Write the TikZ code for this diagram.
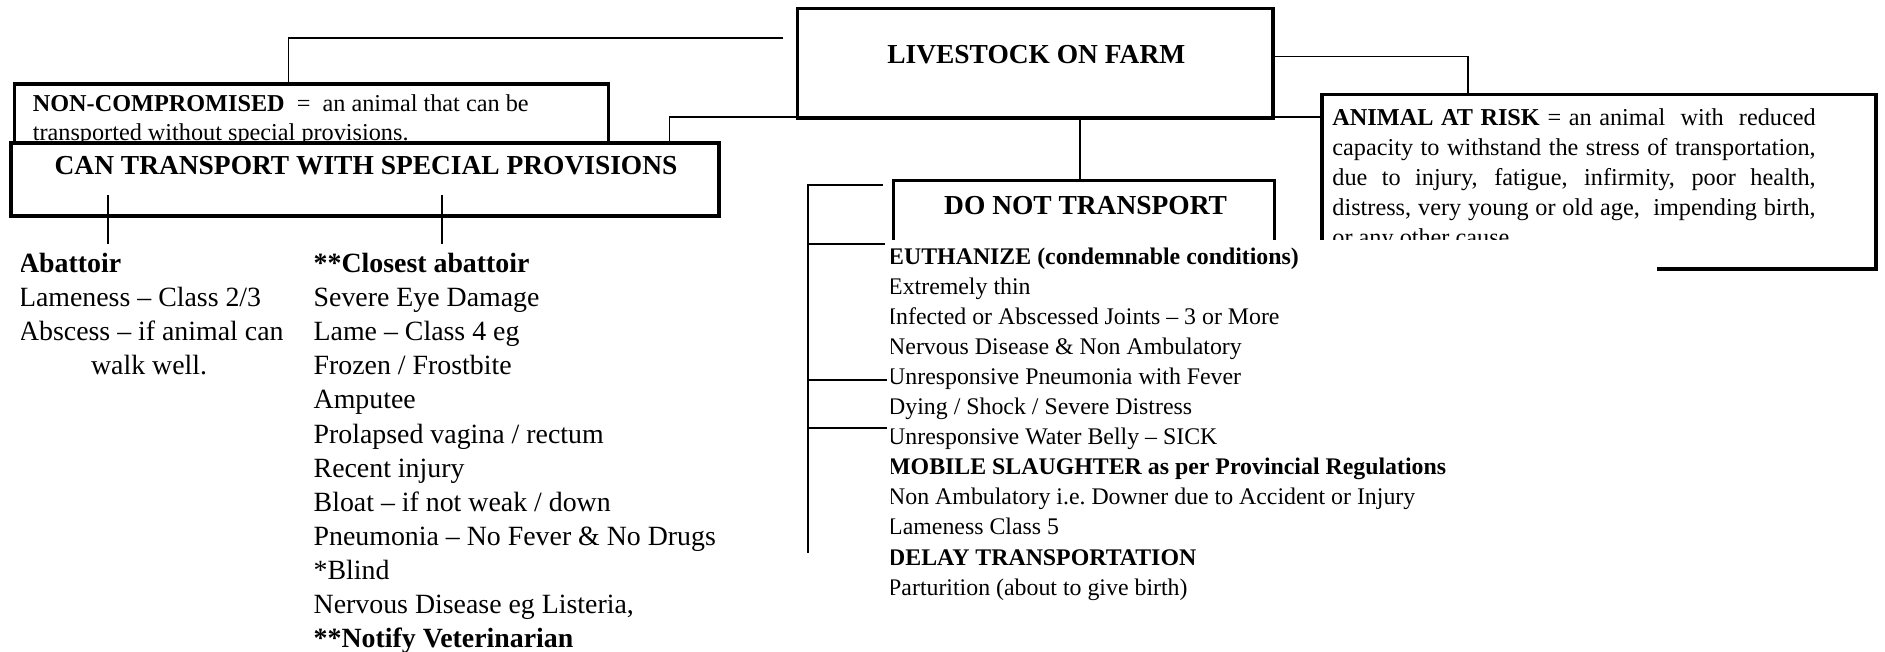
\documentclass[tikz,border=0pt]{standalone}
\usepackage{fontspec}
\setmainfont{Liberation Serif}
\usetikzlibrary{fit}

\newcommand{\headsize}{\fontsize{13.7}{16}\selectfont\bfseries}
\newcommand{\itemsize}{\fontsize{13.9}{17}\selectfont}
\newcommand{\notesize}{\fontsize{12.1}{15}\selectfont}
\newcommand{\listsize}{\fontsize{11.9}{15}\selectfont}

\tikzset{
  box/.style={draw, line width=1.8pt, fill=white, inner sep=0pt, outer sep=0pt},
  link/.style={line width=0.9pt},
  brace/.style={line width=1.2pt},
  head/.style={inner sep=0pt, anchor=base, font=\headsize},
  note/.style={inner sep=0pt, anchor=base west, font=\notesize},
  entry/.style={inner sep=0pt, anchor=base west, font=\itemsize},
  cond/.style={inner sep=0pt, anchor=base west, font=\listsize}
}

\begin{document}
\begin{tikzpicture}[x=0.6pt, y=-0.6pt]
\fill[white] (0,0) rectangle (1568,542);
\useasboundingbox (0,0) rectangle (1568,542);

\node[box, fit={(12,70) (506,150)}] (noncomp) {};
\node[note] at (27,92.5) {\textbf{NON-COMPROMISED}\ \ =\ \ an animal that can be};
\node[note] at (27,116.5) {transported without special provisions.};
\node[box, fit={(9.3,118.7) (598,179.7)}] (special) {};
\node[head] at (304.5,145.5) {CAN TRANSPORT WITH SPECIAL PROVISIONS};

\node[box, fit={(663.5,7.2) (1059,98.4)}] (farm) {};
\node[head] at (862,52.8) {LIVESTOCK ON FARM};

\node[box, fit={(1099.5,78.5) (1560.5,224)}] (atrisk) {};
\foreach \txt [count=\i from 0] in {
    {\makebox[241.2pt][s]{\textbf{ANIMAL AT RISK} = an animal\ \ with\ \ reduced}},
    {\makebox[241.2pt][s]{capacity to withstand the stress of transportation,}},
    {\makebox[241.2pt][s]{due to injury, fatigue, infirmity, poor health,}},
    {\makebox[241.2pt][s]{distress, very young or old age,\ \ impending birth,}},
    {or any other cause.}}
  \node[note] at (1108,{104+\i*25}) {\txt};

\node[box, fit={(743.3,150.3) (1060,230)}] (donot) {};
\node[head] at (903,178.8) {DO NOT TRANSPORT};

\node[fit={(741.5,200) (1378,505)}, fill=white, inner sep=0pt] (condbox) {};
\begin{scope}
  \clip (condbox.north west) rectangle (condbox.south east);
  \foreach \txt [count=\i from 0] in {
      {\textbf{EUTHANIZE (condemnable conditions)}},
      {Extremely thin},
      {Infected or Abscessed Joints -- 3 or More},
      {Nervous Disease \& Non Ambulatory},
      {Unresponsive Pneumonia with Fever},
      {Dying / Shock / Severe Distress},
      {Unresponsive Water Belly -- SICK},
      {\textbf{MOBILE SLAUGHTER as per Provincial Regulations}},
      {Non Ambulatory i.e.\ Downer due to Accident or Injury},
      {Lameness Class 5},
      {\textbf{DELAY TRANSPORTATION}},
      {Parturition (about to give birth)}}
    \node[cond] at (738.5,{220+\i*25}) {\txt};
\end{scope}

\begin{scope}
  \clip (17.8,190) rectangle (250,330);
  \node[entry] (abat) at (15.5,226.5) {\textbf{Abattoir}};
  \node[entry] at (15.5,254.9) {Lameness -- Class 2/3};
  \node[entry] at (15.5,283.3) {Abscess -- if animal can};
  \node[entry, anchor=base] at (124,311.7) {walk well.};
\end{scope}

\foreach \txt [count=\i from 0] in {
    {\textbf{**Closest abattoir}},
    {Severe Eye Damage},
    {Lame -- Class 4 eg},
    {Frozen / Frostbite},
    {Amputee},
    {Prolapsed vagina / rectum},
    {Recent injury},
    {Bloat -- if not weak / down},
    {Pneumonia -- No Fever \& No Drugs},
    {*Blind},
    {Nervous Disease eg Listeria,},
    {\textbf{**Notify Veterinarian}}}
  \node[entry] at (260.6,{226.5+\i*28.4}) {\txt};

\coordinate (nctail) at (651.7,31.9);
\draw[link] (nctail) -| ([xshift=136.8pt]noncomp.north west);
\draw[link] ([xshift=328.6pt]special.north west) |- ([yshift=0.84pt]farm.south west -| atrisk.west);
\draw[link] ([yshift=3.5pt]farm.east) -| ([xshift=-65.4pt]atrisk.north);
\draw[link] ([xshift=-2pt]donot.north) -- ([xshift=-2pt]donot.north |- farm.south);
\foreach \dx in {48.4pt,215.2pt}
  \draw[link] ([xshift=\dx, yshift=10.6pt]special.south west) -- ++(0,41);

\coordinate (brtop) at (672,154);
\draw[brace] ([xshift=-5.4pt]donot.north west |- brtop) -- (brtop) -- ++(0,306);
\foreach \dy/\len in {49/64,162/66,202/66}
  \draw[brace] (brtop) ++(0,\dy) -- ++(\len,0);
\end{tikzpicture}
\end{document}
